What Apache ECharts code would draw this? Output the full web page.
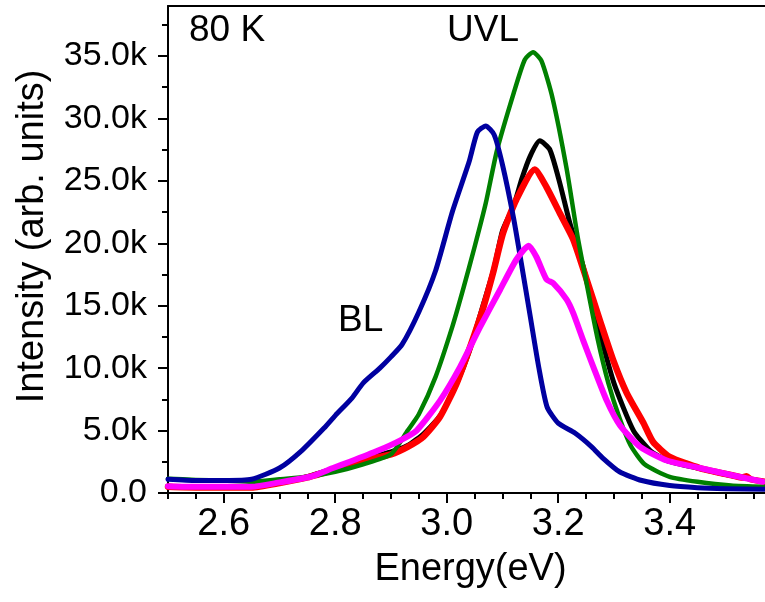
<!DOCTYPE html>
<html lang="en">
<head>
  <meta charset="UTF-8">
  <title>PL 80 K</title>
  <style>
    html, body { margin: 0; padding: 0; background: #fff; }
    #main { width: 765px; height: 602px; }
  </style>
</head>
<body>
  <div id="main"></div>
  <script src="https://cdn.jsdelivr.net/npm/echarts@6/dist/echarts.min.js"></script>
  <script>
    var myChart = echarts.init(document.getElementById("main"));

    // energies (eV) and intensities (k counts)
    var blueE = [2.50, 2.55, 2.60, 2.65, 2.70, 2.74, 2.78, 2.80, 2.83, 2.85, 2.88, 2.90, 2.92, 2.95, 2.98, 3.01, 3.04, 3.055, 3.07, 3.085, 3.10, 3.12, 3.135, 3.15, 3.165, 3.18, 3.20, 3.23, 3.26, 3.28, 3.31, 3.35, 3.40, 3.45, 3.50, 3.57];
    var blueI = [1.1, 1.0, 1.0, 1.1, 2.0, 3.4, 5.2, 6.2, 7.6, 8.8, 10.0, 10.9, 11.9, 14.5, 17.8, 22.5, 26.5, 28.9, 29.4, 28.7, 26.3, 22.0, 18.1, 14.1, 10.1, 6.9, 5.6, 4.8, 3.7, 2.8, 1.7, 1.0, 0.6, 0.43, 0.35, 0.3];

    var greenE = [2.50, 2.55, 2.60, 2.65, 2.70, 2.75, 2.80, 2.85, 2.90, 2.93, 2.95, 2.98, 3.01, 3.03, 3.05, 3.07, 3.09, 3.12, 3.14, 3.155, 3.17, 3.19, 3.215, 3.235, 3.25, 3.27, 3.29, 3.31, 3.33, 3.355, 3.40, 3.45, 3.51, 3.57];
    var greenI = [1.15, 1.05, 1.0, 0.9, 1.1, 1.3, 1.7, 2.3, 3.1, 5.0, 6.3, 9.3, 13.3, 16.4, 19.7, 23.2, 27.4, 32.0, 34.7, 35.3, 34.6, 31.6, 26.0, 20.5, 17.0, 12.5, 8.8, 6.0, 3.8, 2.3, 1.3, 0.9, 0.6, 0.5];

    var blackE = [2.50, 2.55, 2.60, 2.65, 2.70, 2.75, 2.80, 2.85, 2.90, 2.93, 2.96, 2.99, 3.02, 3.04, 3.065, 3.085, 3.10, 3.12, 3.135, 3.15, 3.167, 3.185, 3.203, 3.221, 3.245, 3.275, 3.30, 3.335, 3.365, 3.395, 3.45, 3.51, 3.57];
    var blackI = [0.55, 0.5, 0.5, 0.5, 0.85, 1.3, 2.0, 2.7, 3.3, 3.8, 4.8, 6.3, 9.0, 11.3, 15.0, 18.0, 21.0, 23.0, 25.2, 27.0, 28.2, 27.5, 24.8, 21.6, 18.1, 12.8, 8.8, 5.0, 3.4, 2.6, 2.0, 1.4, 0.9];

    var redE = [2.50, 2.55, 2.60, 2.65, 2.70, 2.75, 2.80, 2.85, 2.90, 2.93, 2.958, 2.988, 3.018, 3.042, 3.066, 3.083, 3.101, 3.125, 3.158, 3.179, 3.203, 3.227, 3.251, 3.275, 3.299, 3.323, 3.353, 3.37, 3.40, 3.454, 3.514, 3.53, 3.538, 3.545, 3.57];
    var redI = [0.5, 0.45, 0.45, 0.45, 0.8, 1.25, 1.9, 2.6, 3.1, 3.7, 4.5, 6.1, 8.8, 11.7, 14.9, 17.6, 20.8, 23.5, 25.9, 24.5, 22.4, 20.3, 17.1, 13.8, 10.6, 8.0, 5.6, 4.1, 2.9, 2.0, 1.4, 1.25, 1.35, 1.1, 0.9];

    var magentaE = [2.50, 2.55, 2.60, 2.65, 2.70, 2.755, 2.796, 2.826, 2.877, 2.916, 2.946, 2.988, 3.024, 3.06, 3.096, 3.125, 3.147, 3.161, 3.179, 3.191, 3.215, 3.227, 3.245, 3.263, 3.287, 3.311, 3.347, 3.395, 3.454, 3.514, 3.567];
    var magentaI = [0.55, 0.5, 0.5, 0.5, 0.85, 1.3, 2.0, 2.5, 3.4, 4.2, 5.0, 7.4, 10.1, 13.3, 16.3, 18.7, 19.8, 18.9, 17.1, 16.8, 15.5, 14.4, 12.2, 10.1, 7.4, 5.4, 3.7, 2.6, 2.0, 1.4, 0.9];

    var xTickLabels = [2.6, 2.8, 3.0, 3.2, 3.4];
    var yTickLabels = [0, 5000, 10000, 15000, 20000, 25000, 30000, 35000];

    var xMin = 2.5, xMax = 3.571, yMax = 39000;

    var xMinor = [];
    for (var t = 0; t <= 21; t++) xMinor.push(+(2.5 + t * 0.05).toFixed(2));
    var yMinor = [];
    for (var u = 0; u <= 15; u++) yMinor.push(u * 2500);

    function pairs(e, i) {
      var res = [];
      for (var k = 0; k < e.length; k++) res.push([e[k], i[k] * 1000]);
      return res;
    }

    var font = "'Liberation Sans', Arial, sans-serif";

    function line(name, color, width, e, i) {
      return {
        name: name,
        type: 'line',
        data: pairs(e, i),
        showSymbol: false,
        smooth: 0.2,
        lineStyle: { color: color, width: width, join: 'round', cap: 'round' },
        itemStyle: { color: color },
        animation: false
      };
    }

    option = {
      backgroundColor: '#fff',
      grid: { left: 168, right: 0, top: 6, bottom: 109 },
      xAxis: [{
        type: 'value',
        min: xMin,
        max: xMax,
        name: 'Energy(eV)',
        nameLocation: 'middle',
        nameGap: 58,
        nameTextStyle: { fontFamily: font, fontSize: 38, color: '#000', padding: [0, 0, 0, 8] },
        axisLine: { lineStyle: { color: '#000', width: 2 } },
        axisTick: { customValues: xTickLabels, length: 10, lineStyle: { color: '#000', width: 2 } },
        axisLabel: {
          customValues: xTickLabels,
          margin: 13,
          fontFamily: font,
          fontSize: 38,
          color: '#000',
          formatter: function (v) { return v.toFixed(1); }
        },
        splitLine: { show: false }
      }, {
        type: 'value',
        position: 'bottom',
        min: xMin,
        max: xMax,
        axisLine: { show: false },
        axisTick: { customValues: xMinor, length: 6, lineStyle: { color: '#000', width: 2 } },
        axisLabel: { show: false },
        splitLine: { show: false }
      }, {
        type: 'value',
        position: 'top',
        min: xMin,
        max: xMax,
        axisLine: { lineStyle: { color: '#000', width: 2 } },
        axisTick: { show: false },
        axisLabel: { show: false },
        splitLine: { show: false }
      }],
      yAxis: [{
        type: 'value',
        min: 0,
        max: yMax,
        name: 'Intensity (arb. units)',
        nameLocation: 'middle',
        nameGap: 116,
        nameTextStyle: { fontFamily: font, fontSize: 38, color: '#000', padding: [0, 0, 0, 26] },
        axisLine: { show: true, lineStyle: { color: '#000', width: 2 } },
        axisTick: { show: true, customValues: yTickLabels, length: 10, lineStyle: { color: '#000', width: 2 } },
        axisLabel: {
          customValues: yTickLabels,
          margin: 21,
          fontFamily: font,
          fontSize: 34,
          color: '#000',
          formatter: function (v) { return v === 0 ? '0.0' : (v / 1000).toFixed(1) + 'k'; }
        },
        splitLine: { show: false }
      }, {
        type: 'value',
        position: 'left',
        min: 0,
        max: yMax,
        axisLine: { show: false },
        axisTick: { show: true, customValues: yMinor, length: 6, lineStyle: { color: '#000', width: 2 } },
        axisLabel: { show: false },
        splitLine: { show: false }
      }],
      graphic: [
        { type: 'text', left: 189, top: 12, style: { text: '80 K', font: '37px ' + font, fill: '#000' } },
        { type: 'text', left: 447, top: 12, style: { text: 'UVL', font: '37px ' + font, fill: '#000' } },
        { type: 'text', left: 338, top: 302, style: { text: 'BL', font: '37px ' + font, fill: '#000' } }
      ],
      series: [
        line('black', '#000000', 5, blackE, blackI),
        line('red', '#ff0000', 6.5, redE, redI),
        line('green', '#008000', 4.5, greenE, greenI),
        line('blue', '#0000a0', 5, blueE, blueI),
        line('magenta', '#ff00ff', 6, magentaE, magentaI)
      ]
    };

    myChart.setOption(option);
  </script>
</body>
</html>
